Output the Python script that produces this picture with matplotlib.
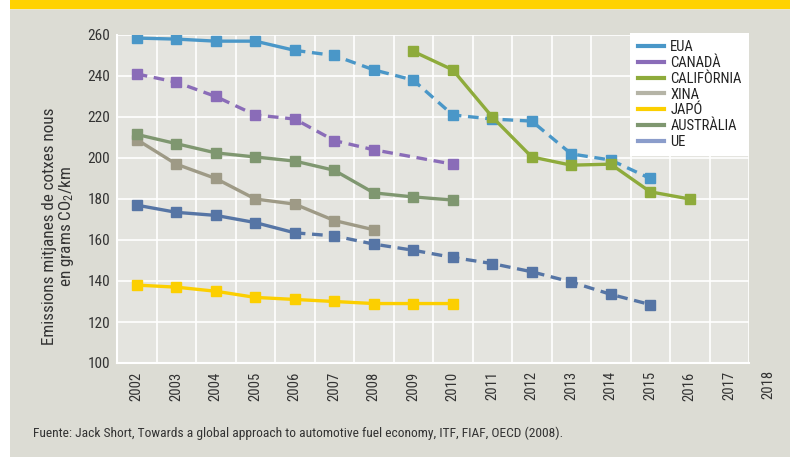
import matplotlib
matplotlib.use("Agg")
import matplotlib.pyplot as plt
from matplotlib.lines import Line2D
from matplotlib.patches import Rectangle
from matplotlib import font_manager
import numpy as np

avail = {f.name for f in font_manager.fontManager.ttflist}
cands = ['Roboto Condensed', 'Open Sans Condensed', 'Liberation Sans Narrow',
         'DejaVu Sans Condensed', 'Noto Sans Condensed', 'Arial Narrow']
narrow = [c for c in cands if c in avail]
plt.rcParams['font.family'] = narrow + ['Liberation Sans', 'DejaVu Sans']
plt.rcParams['mathtext.default'] = 'regular'

years = list(range(2002, 2018))
extra_year_label = "2018"

eua_years = list(range(2002, 2016))
eua_vals = [258.5, 258, 257, 257, 252.5, 250, 243, 238, 221, 219, 218, 202, 199, 190]
eua_solid_until = 2006

canada_years = [2002, 2003, 2004, 2005, 2006, 2007, 2008, 2010]
canada_vals = [241, 237, 230, 221, 219, 208.5, 204, 197]

calif_years = list(range(2009, 2017))
calif_vals = [252, 243, 220, 200.5, 196.5, 197, 183.5, 180]

xina_years = list(range(2002, 2009))
xina_vals = [209, 197, 190, 180, 177.5, 169.5, 165]

japo_years = list(range(2002, 2011))
japo_vals = [138, 137, 135, 132, 131, 130, 129, 129, 129]

austr_years = list(range(2002, 2011))
austr_vals = [211.5, 207, 202.5, 200.5, 198.5, 194, 183, 181, 179.5]

ue_years = list(range(2002, 2016))
ue_vals = [177, 173.5, 172, 168.5, 163.5, 162, 158, 155, 151.5, 148.5, 144.5, 139.5, 133.5, 128.5]
ue_solid_until = 2006

labels = ["EUA", "CANADÀ", "CALIFÒRNIA", "XINA", "JAPÓ", "AUSTRÀLIA", "UE"]
line_colors = ["#4a97c8", "#8a6cb8", "#8eab3b", "#9e9a86", "#fccf00", "#7f9770", "#5675a5"]
legend_colors = ["#4a97c8", "#8a6cb8", "#8eab3b", "#b5b4a6", "#fccf00", "#7f9770", "#8b9dcb"]

fig = plt.figure(figsize=(7.9, 4.57), dpi=100, facecolor="white")
fig.patches.append(Rectangle((10/790, 0), 1, 1, transform=fig.transFigure,
                             facecolor="#dcdcd4", edgecolor="none", zorder=-10))
fig.patches.append(Rectangle((10/790, 1 - 8.5/457), 1, 8.5/457, transform=fig.transFigure,
                             facecolor="#ffd200", edgecolor="none", zorder=-9))
fig.patches.append(Rectangle((10/790, 1 - 10/457), 1, 1.5/457, transform=fig.transFigure,
                             facecolor="#ebe6c8", edgecolor="none", zorder=-9))

ax = fig.add_axes([117/790, 1 - 363/457, 632/790, 328/457])
ax.set_facecolor("#e4e4df")

def pos(ys):
    return [y - years[0] for y in ys]

lw = 2.4
ms = 6.5
dash = (3.2, 2.0)

def draw(ys, vs, color, solid_until=None, all_dashed=False, z=3):
    x = np.array(pos(ys), dtype=float)
    v = np.array(vs, dtype=float)
    if all_dashed:
        ax.plot(x, v, color=color, lw=lw, ls=(0, dash), zorder=z)
    elif solid_until is not None:
        k = ys.index(solid_until)
        ax.plot(x[:k+1], v[:k+1], color=color, lw=lw, zorder=z, solid_joinstyle="round")
        ax.plot(x[k:], v[k:], color=color, lw=lw, ls=(0, dash), zorder=z)
    else:
        ax.plot(x, v, color=color, lw=lw, zorder=z, solid_joinstyle="round")
    ax.plot(x, v, ls="none", marker="s", ms=ms, color=color, mec=color, zorder=z + 0.1)

draw(japo_years, japo_vals, line_colors[4])
draw(ue_years, ue_vals, line_colors[6], solid_until=ue_solid_until)
draw(xina_years, xina_vals, line_colors[3])
draw(austr_years, austr_vals, line_colors[5])
draw(canada_years, canada_vals, line_colors[1], all_dashed=True)
draw(eua_years, eua_vals, line_colors[0], solid_until=eua_solid_until)
draw(calif_years, calif_vals, line_colors[2], z=4)

ax.set_xlim(-0.5, len(years) - 0.5)
ax.set_ylim(100, 260)
ax.set_yticks(np.arange(100, 261, 20))
ax.set_xticks(range(len(years)))
ax.set_xticklabels([str(y) for y in years], rotation=90, fontsize=10.5, color="#333333")
ax.set_xticks(np.arange(-0.5, len(years), 1), minor=True)
ax.tick_params(axis="x", which="both", length=0, pad=6)
ax.tick_params(axis="y", length=0, pad=5, labelsize=11, labelcolor="#333333")
ax.grid(True, axis="x", which="minor", color="white", lw=1.2)
ax.grid(True, axis="y", which="major", color="white", lw=1.2)
ax.grid(False, axis="x", which="major")
ax.set_axisbelow(True)
for s in ["top", "right"]:
    ax.spines[s].set_visible(False)
for s in ["left", "bottom"]:
    ax.spines[s].set_color("white")
    ax.spines[s].set_linewidth(1.5)

ax.text(len(years), -0.02, extra_year_label, transform=ax.get_xaxis_transform(),
        rotation=90, ha="center", va="top", fontsize=10.5, color="#333333")

handles = [Line2D([0], [0], color=c, lw=3) for c in legend_colors]
leg = ax.legend(handles, labels, loc="upper right", bbox_to_anchor=(1.0, 1.006),
                borderaxespad=0, frameon=True, fancybox=False, fontsize=10.5,
                handlelength=1.8, handletextpad=0.45, labelspacing=0.12,
                borderpad=0.5, facecolor="white", edgecolor="none", framealpha=1)
for t in leg.get_texts():
    t.set_color("#222222")

fig.text(59/790, 1 - 226/457, "Emissions mitjanes de cotxes nous\nen grams CO$_2$/km",
         rotation=90, ha="center", va="center", fontsize=12.3, color="#333333",
         multialignment="center", linespacing=1.0)

fig.text(33/790, 1 - 433/457,
         "Fuente: Jack Short, Towards a global approach to automotive fuel economy, ITF, FIAF, OECD (2008).",
         ha="left", va="center", fontsize=9.7, color="#333333")

fig.savefig("out.png", dpi=100, facecolor=fig.get_facecolor())
